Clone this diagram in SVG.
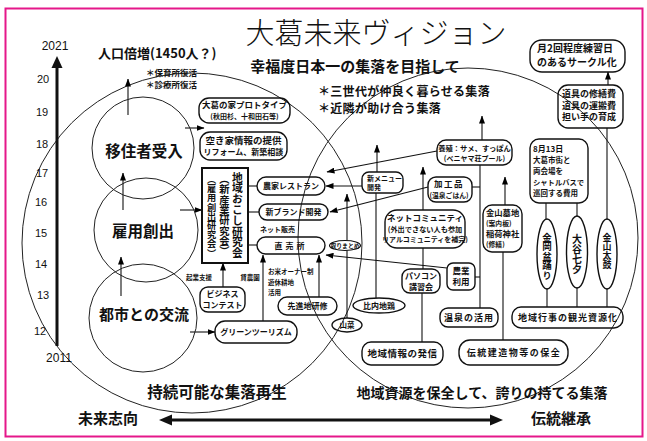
<svg xmlns="http://www.w3.org/2000/svg" width="647" height="441" viewBox="0 0 647 441">
<defs>
<marker id="ah" viewBox="0 0 8 6" refX="7.5" refY="3" markerWidth="8" markerHeight="6" markerUnits="userSpaceOnUse" orient="auto">
<path d="M0,0 L8,3 L0,6 z" fill="#000"/>
</marker>
<style>
.t{font-family:"Noto Sans CJK JP","Noto Sans CJK SC",sans-serif;font-weight:bold;text-anchor:middle;fill:#111}
.s{text-anchor:start}
.n{font-family:"Liberation Sans",Arial,sans-serif;font-size:11px;text-anchor:middle;fill:#111}
.v{writing-mode:vertical-rl;text-anchor:start}
.vm{writing-mode:vertical-rl;text-anchor:middle}
.bx{fill:none;stroke:#111;stroke-width:1.4}
.ln{fill:none;stroke:#111;stroke-width:1.1}
.ar{fill:none;stroke:#111;stroke-width:1.1;marker-end:url(#ah)}
.big{fill:none;stroke:#222;stroke-width:1}
</style>
</defs>
<rect x="0" y="0" width="647" height="441" fill="#fff"/>
<rect x="5.5" y="8.5" width="637" height="428" fill="#fff" stroke="#e5178a" stroke-width="2"/>

<g id="circles">
<circle cx="192" cy="243" r="170" class="big"/>
<circle cx="468" cy="238" r="170" class="big"/>
</g>

<g id="headings">
<text x="376" y="44" class="t" style="font-size:29px;font-weight:300">大葛未来ヴィジョン</text>
<text x="355" y="72" class="t" style="font-size:15px">幸福度日本一の集落を目指して</text>
<text x="318" y="95.5" class="t s" style="font-size:12px;letter-spacing:0.3px">＊三世代が仲良く暮らせる集落</text>
<text x="318" y="113" class="t s" style="font-size:12px;letter-spacing:0.3px">＊近隣が助け合う集落</text>
<text x="98" y="58" class="t s" style="font-size:13px">人口倍増(1450人？)</text>
<text x="146" y="76" class="t s" style="font-size:8.5px">＊保育所復活</text>
<text x="146" y="88" class="t s" style="font-size:8.5px">＊診療所復活</text>
<text x="217" y="398" class="t" style="font-size:15.5px">持続可能な集落再生</text>
<text x="482" y="398" class="t" style="font-size:14px">地域資源を保全して、誇りの持てる集落</text>
<text x="108" y="424" class="t" style="font-size:15px">未来志向</text>
<text x="561" y="424" class="t" style="font-size:15px">伝統継承</text>
</g>

<g id="timeline">
<line x1="57" y1="346" x2="57" y2="66" stroke="#111" stroke-width="3"/>
<polygon points="57,56 51.5,68 62.5,68" fill="#111"/>
<text x="55" y="50" class="n" style="font-size:12px">2021</text>
<text x="43" y="83" class="n">20</text>
<text x="42" y="116" class="n">19</text>
<text x="42" y="148" class="n">18</text>
<text x="42" y="177" class="n">17</text>
<text x="41" y="206" class="n">16</text>
<text x="41" y="237" class="n">15</text>
<text x="41" y="268" class="n">14</text>
<text x="43" y="299" class="n">13</text>
<text x="40" y="335" class="n">12</text>
<text x="59" y="362" class="n" style="font-size:12px">2011</text>
</g>

<g id="connectors">
<line x1="170" y1="420" x2="494" y2="420" stroke="#111" stroke-width="3"/>
<polygon points="159,420 172,414.5 172,425.5" fill="#111"/>
<polygon points="503,420 490,414.5 490,425.5" fill="#111"/>
<line x1="128" y1="115" x2="128" y2="79" class="ar"/>
<line x1="123" y1="210" x2="123" y2="173" class="ar"/>
<line x1="121" y1="296" x2="121" y2="257" class="ar"/>
<line x1="185" y1="128" x2="204" y2="128" class="ar"/>
<line x1="180" y1="210" x2="202" y2="210" class="ar"/>
<line x1="190" y1="332" x2="215" y2="332" class="ar"/>
<line x1="248" y1="186" x2="257" y2="186" class="ln"/>
<line x1="248" y1="212" x2="259" y2="212" class="ln"/>
<line x1="248" y1="245" x2="257" y2="245" class="ln"/>
<line x1="223" y1="287" x2="223" y2="263" class="ar"/>
<line x1="263" y1="321" x2="263" y2="255" class="ar"/>
<line x1="319" y1="297" x2="319" y2="255" class="ar"/>
<line x1="362" y1="186" x2="326" y2="186" class="ar"/>
<line x1="437" y1="151" x2="327" y2="172" class="ar"/>
<line x1="428" y1="187" x2="330" y2="212" class="ar"/>
<line x1="447" y1="268" x2="326" y2="255" class="ar"/>
<line x1="347" y1="318" x2="347" y2="250.5" class="ln"/>
<line x1="347" y1="240.5" x2="347" y2="194" class="ar"/>
<line x1="376" y1="298" x2="376" y2="193" class="ln"/>
<line x1="377" y1="172" x2="377" y2="145" class="ar"/>
<line x1="423" y1="210" x2="423" y2="167" class="ar"/>
<line x1="423" y1="248" x2="423" y2="269" class="ln"/>
<line x1="422" y1="293" x2="422" y2="342" class="ln"/>
<line x1="480" y1="165" x2="480" y2="308" class="ln"/>
<line x1="472" y1="187" x2="480" y2="187" class="ln"/>
<line x1="475" y1="277" x2="480" y2="277" class="ln"/>
<line x1="482" y1="140" x2="482" y2="116" class="ar"/>
<line x1="505" y1="205" x2="505" y2="177" class="ar"/>
<line x1="503" y1="252" x2="503" y2="340" class="ln"/>
<line x1="546" y1="203" x2="546" y2="219" class="ln"/>
<line x1="577" y1="203" x2="577" y2="216" class="ln"/>
<line x1="607" y1="128" x2="607" y2="219" class="ln"/>
<line x1="608" y1="85" x2="608" y2="72" class="ar"/>
<line x1="547" y1="289" x2="547" y2="307" class="ln"/>
<line x1="577" y1="288" x2="577" y2="307" class="ln"/>
<line x1="607" y1="289" x2="607" y2="307" class="ln"/>
</g>

<g id="c_ijusha">
<circle cx="143" cy="148" r="51" class="big"/>
<text x="144" y="157" class="t" style="font-size:15.5px">移住者受入</text>
</g>
<g id="c_koyou">
<circle cx="146" cy="230" r="52" class="big"/>
<text x="143" y="237" class="t" style="font-size:15.5px">雇用創出</text>
</g>
<g id="c_toshi">
<circle cx="143" cy="318" r="54" class="big"/>
<text x="144" y="320" class="t" style="font-size:15px">都市との交流</text>
</g>

<g id="n_prototype">
<rect x="199" y="98" width="91" height="25" rx="10" class="bx"/>
<text x="244.5" y="108" class="t" style="font-size:8.5px">大葛の家プロトタイプ</text>
<text x="244.5" y="119" class="t" style="font-size:7px">(秋田杉、十和田石等)</text>
</g>
<g id="n_akiya">
<rect x="200" y="132" width="87" height="28" rx="10" class="bx"/>
<text x="243.5" y="143.5" class="t" style="font-size:9.5px">空き家情報の提供</text>
<text x="243.5" y="155" class="t" style="font-size:8px">リフォーム、新築相談</text>
</g>
<g id="n_kenkyu">
<rect x="202" y="168" width="46" height="95" fill="none" stroke="#111" stroke-width="2"/>
<text x="237.5" y="172" class="t v" style="font-size:10.8px">地域おこし研究会</text>
<text x="224.5" y="174" class="t v" style="font-size:10.3px">（新産業研究会）</text>
<text x="211.5" y="175" class="t v" style="font-size:9.2px">（雇用創出研究会）</text>
</g>
<g id="n_restaurant">
<rect x="257" y="177" width="68" height="18" rx="9" class="bx"/>
<text x="291" y="189" class="t" style="font-size:8px">農家レストラン</text>
</g>
<g id="n_brand">
<rect x="259" y="204" width="69" height="16" rx="8" class="bx"/>
<text x="293.5" y="215" class="t" style="font-size:8px">新ブランド開発</text>
</g>
<text x="260" y="231.5" class="t s" style="font-size:7px">ネット販売</text>
<g id="n_chokubai">
<rect x="257" y="237" width="68" height="17" rx="8.5" class="bx"/>
<text x="291" y="248.5" class="t" style="font-size:8px;letter-spacing:3px">直売所</text>
</g>
<g id="n_torimatome">
<ellipse cx="345" cy="245.5" rx="15.5" ry="5" class="bx" style="stroke-width:1.1"/>
<text x="345" y="247.6" class="t" style="font-size:5.8px">取りまとめ</text>
</g>
<g id="n_menu">
<rect x="362" y="172" width="41" height="21" rx="7" class="bx"/>
<text x="367" y="180.5" class="t s" style="font-size:7px">新メニュー</text>
<text x="367" y="190" class="t s" style="font-size:7px">開発</text>
</g>
<g id="n_youshoku">
<rect x="437" y="140" width="75" height="25" rx="9" class="bx"/>
<text x="474.5" y="150.5" class="t" style="font-size:7.3px">養殖：サメ、すっぽん</text>
<text x="474.5" y="161" class="t" style="font-size:7px">(ベニヤマ荘プール)</text>
</g>
<g id="n_kakou">
<rect x="428" y="177" width="44" height="25" rx="8" class="bx"/>
<text x="449" y="187" class="t" style="font-size:8.5px;letter-spacing:1.5px">加工品</text>
<text x="449" y="198" class="t" style="font-size:6.8px">(温泉ごはん)</text>
</g>
<g id="n_netcomm">
<rect x="385" y="210" width="80" height="38" rx="12" class="bx"/>
<text x="425" y="221" class="t" style="font-size:8.5px">ネットコミュニティ</text>
<text x="425" y="232" class="t" style="font-size:7.2px">(外出できない人も参加</text>
<text x="425" y="242" class="t" style="font-size:7px">リアルコミュニティを補完)</text>
</g>
<g id="n_pasokon">
<rect x="402" y="269" width="38" height="24" rx="8" class="bx"/>
<text x="421" y="279" class="t" style="font-size:8px">パソコン</text>
<text x="421" y="290" class="t" style="font-size:8px">講習会</text>
</g>
<g id="n_nougyou">
<rect x="447" y="263" width="28" height="27" rx="6" class="bx"/>
<text x="461" y="274" class="t" style="font-size:8.5px">農業</text>
<text x="461" y="285" class="t" style="font-size:8.5px">利用</text>
</g>
<g id="n_bochi">
<rect x="483" y="205" width="39" height="47" rx="9" class="bx"/>
<text x="486" y="215.5" class="t s" style="font-size:8.3px">金山墓地</text>
<text x="486" y="226" class="t s" style="font-size:6.8px">(案内板)</text>
<text x="486" y="236.5" class="t s" style="font-size:8.3px">稲荷神社</text>
<text x="486" y="247" class="t s" style="font-size:6.8px">(修繕)</text>
</g>
<g id="n_shuttle">
<rect x="530" y="139" width="58" height="64" rx="9" class="bx"/>
<text x="533" y="152" class="t s" style="font-size:8px">8月13日</text>
<text x="533" y="163" class="t s" style="font-size:7.5px">大葛市街と</text>
<text x="533" y="174" class="t s" style="font-size:7.5px">両会場を</text>
<text x="533" y="185" class="t s" style="font-size:7.3px">シャトルバスで</text>
<text x="533" y="196" class="t s" style="font-size:7.5px">巡回する費用</text>
</g>
<g id="n_circle">
<rect x="530" y="40" width="95" height="32" rx="12" class="bx"/>
<text x="537" y="52" class="t s" style="font-size:10px">月2回程度練習日</text>
<text x="537" y="66" class="t s" style="font-size:10px">のあるサークル化</text>
</g>
<g id="n_dougu">
<rect x="558" y="85" width="65" height="43" rx="10" class="bx"/>
<text x="562" y="97" class="t s" style="font-size:9px">道具の修繕費</text>
<text x="562" y="108.5" class="t s" style="font-size:9px">道具の運搬費</text>
<text x="562" y="120" class="t s" style="font-size:9px">担い手の育成</text>
</g>
<g id="n_bon">
<ellipse cx="547" cy="254" rx="10" ry="35" class="bx"/>
<text x="547" y="256" class="t vm" style="font-size:9.5px">金岡盆踊り</text>
</g>
<g id="n_tanabata">
<ellipse cx="577" cy="252" rx="10.5" ry="36" class="bx"/>
<text x="577" y="254" class="t vm" style="font-size:10px">大谷七夕</text>
</g>
<g id="n_taiko">
<ellipse cx="607" cy="254" rx="10" ry="35" class="bx"/>
<text x="607" y="251" class="t vm" style="font-size:9px">金山太鼓</text>
</g>
<g id="n_onsen">
<rect x="440" y="308" width="58" height="19" rx="8" class="bx"/>
<text x="469" y="320.5" class="t" style="font-size:9px;letter-spacing:1px">温泉の活用</text>
</g>
<g id="n_gyouji">
<rect x="512" y="307" width="111" height="21" rx="9" class="bx"/>
<text x="568" y="320.5" class="t" style="font-size:9px;letter-spacing:1px">地域行事の観光資源化</text>
</g>
<g id="n_dentou">
<rect x="459" y="340" width="109" height="25" rx="11" class="bx"/>
<text x="514" y="355.5" class="t" style="font-size:9px;letter-spacing:1.5px">伝統建造物等の保全</text>
</g>
<g id="n_jouhou">
<rect x="362" y="342" width="81" height="23" rx="9" class="bx"/>
<text x="402.5" y="356.5" class="t" style="font-size:9.5px;letter-spacing:0.5px">地域情報の発信</text>
</g>
<g id="n_hinai">
<ellipse cx="379" cy="305.5" rx="26" ry="7.5" class="bx"/>
<text x="379" y="308.5" class="t" style="font-size:8px">比内地鶏</text>
</g>
<g id="n_sansai">
<ellipse cx="347" cy="325" rx="15" ry="7" class="bx"/>
<text x="347" y="327.7" class="t" style="font-size:7.5px">山菜</text>
</g>
<g id="n_senshin">
<rect x="278" y="297" width="59" height="18" rx="9" class="bx"/>
<text x="307.5" y="309" class="t" style="font-size:8px">先進地研修</text>
</g>
<g id="n_green">
<rect x="215" y="321" width="82" height="22" rx="10" class="bx"/>
<text x="256" y="335" class="t" style="font-size:8px">グリーンツーリズム</text>
</g>
<g id="n_business">
<rect x="200" y="287" width="45" height="25" rx="8" class="bx"/>
<text x="222.5" y="296.5" class="t" style="font-size:8px">ビジネス</text>
<text x="222.5" y="308" class="t" style="font-size:8px">コンテスト</text>
</g>
<g id="labels">
<text x="199" y="279.5" class="t" style="font-size:6.5px">起業支援</text>
<text x="250" y="279.5" class="t" style="font-size:6.5px">貸農園</text>
<text x="268" y="273.5" class="t s" style="font-size:6.5px">お米オーナー制</text>
<text x="268" y="284.5" class="t s" style="font-size:6.5px">遊休耕地</text>
<text x="268" y="294.5" class="t s" style="font-size:6.5px">活用</text>
</g>
</svg>
